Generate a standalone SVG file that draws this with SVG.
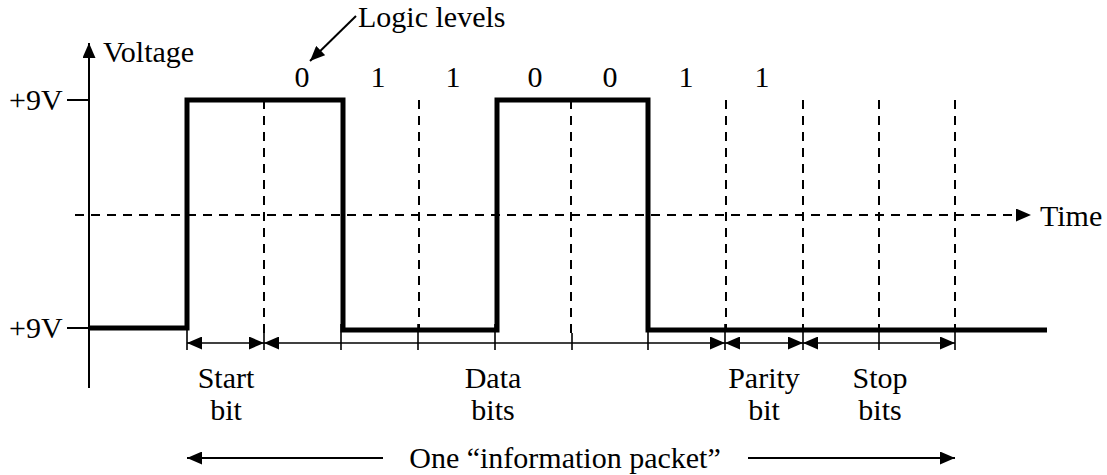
<svg xmlns="http://www.w3.org/2000/svg" width="1107" height="475" viewBox="0 0 1107 475">
<style>
text{font-family:"Liberation Serif","Times New Roman",serif;font-size:30px;fill:#000}
.c{text-anchor:middle}
.ax{stroke:#000;stroke-width:2;fill:none}
.dash{stroke:#000;stroke-width:2;stroke-dasharray:9 7;fill:none}
.thin{stroke:#000;stroke-width:1.6;fill:none}
.wave{stroke:#000;stroke-width:5;fill:none;stroke-linejoin:miter}
</style>
<defs>
<marker id="ah" markerWidth="15" markerHeight="13" refX="15" refY="6.5" orient="auto-start-reverse" markerUnits="userSpaceOnUse">
<path d="M0,0 L15,6.5 L0,13 Z" fill="#000"/>
</marker>
</defs>
<g id="axes">
<line class="ax" x1="89" y1="388" x2="89" y2="43" marker-end="url(#ah)"/>
<line class="ax" x1="67" y1="100" x2="89" y2="100"/>
<line class="ax" x1="67" y1="328" x2="89" y2="328"/>
<text x="103" y="62">Voltage</text>
<text x="9" y="110">+9V</text>
<text x="9" y="338">+9V</text>
<line class="dash" x1="75" y1="215" x2="1031" y2="215" marker-end="url(#ah)"/>
<text x="1040" y="226">Time</text>
</g>
<g id="grid">
<line class="dash" x1="264" y1="100" x2="264" y2="333"/>
<line class="dash" x1="419" y1="100" x2="419" y2="330"/>
<line class="dash" x1="571" y1="100" x2="571" y2="333"/>
<line class="dash" x1="726" y1="100" x2="726" y2="330"/>
<line class="dash" x1="803" y1="100" x2="803" y2="330"/>
<line class="dash" x1="879" y1="100" x2="879" y2="330"/>
<line class="dash" x1="955" y1="100" x2="955" y2="330"/>
</g>
<g id="waveform">
<path class="wave" d="M89,328 H187 V100 H343 V330 H497 V100 H648 V330 H1047"/>
</g>
<g id="logic-levels">
<text x="358" y="27">Logic levels</text>
<text class="c" x="302" y="87">0</text>
<text class="c" x="378" y="87">1</text>
<text class="c" x="453" y="87">1</text>
<text class="c" x="535" y="87">0</text>
<text class="c" x="610" y="87">0</text>
<text class="c" x="686" y="87">1</text>
<text class="c" x="762" y="87">1</text>
</g>
<g id="connectors">
<line class="ax" x1="356" y1="16" x2="310" y2="61" marker-end="url(#ah)"/>
<line class="thin" x1="187" y1="330" x2="187" y2="350"/>
<line class="thin" x1="264" y1="333" x2="264" y2="350"/>
<line class="thin" x1="341" y1="324" x2="341" y2="350"/>
<line class="thin" x1="418" y1="324" x2="418" y2="350"/>
<line class="thin" x1="495" y1="324" x2="495" y2="350"/>
<line class="thin" x1="572" y1="333" x2="572" y2="350"/>
<line class="thin" x1="648" y1="324" x2="648" y2="350"/>
<line class="thin" x1="725" y1="324" x2="725" y2="350"/>
<line class="thin" x1="803" y1="324" x2="803" y2="350"/>
<line class="thin" x1="879" y1="324" x2="879" y2="350"/>
<line class="thin" x1="955" y1="324" x2="955" y2="350"/>
<line class="thin" x1="187" y1="343" x2="264" y2="343" marker-start="url(#ah)" marker-end="url(#ah)"/>
<line class="thin" x1="264" y1="343" x2="725" y2="343" marker-start="url(#ah)" marker-end="url(#ah)"/>
<line class="thin" x1="725" y1="343" x2="803" y2="343" marker-start="url(#ah)" marker-end="url(#ah)"/>
<line class="thin" x1="803" y1="343" x2="955" y2="343" marker-start="url(#ah)" marker-end="url(#ah)"/>
<line class="ax" x1="383" y1="458" x2="187" y2="458" marker-end="url(#ah)"/>
<line class="ax" x1="748" y1="458" x2="955" y2="458" marker-end="url(#ah)"/>
</g>
<g id="labels">
<text class="c" x="226" y="388">Start</text>
<text class="c" x="226" y="420">bit</text>
<text class="c" x="493" y="388">Data</text>
<text class="c" x="493" y="420">bits</text>
<text class="c" x="764" y="388">Parity</text>
<text class="c" x="764" y="420">bit</text>
<text class="c" x="880" y="388">Stop</text>
<text class="c" x="880" y="420">bits</text>
<text class="c" x="565" y="468">One “information packet”</text>
</g>
</svg>
